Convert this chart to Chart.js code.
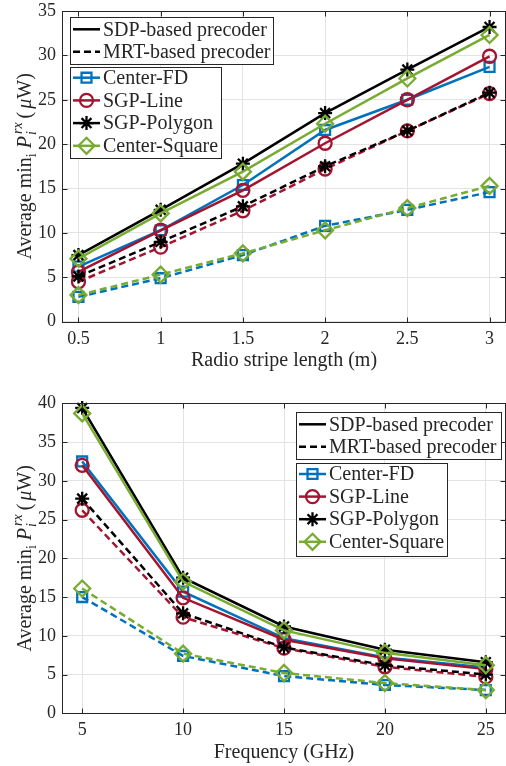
<!DOCTYPE html>
<html>
<head>
<meta charset="utf-8">
<script src="https://cdn.jsdelivr.net/npm/chart.js@4.4.0/dist/chart.umd.min.js"></script>
<style>
  html, body { margin: 0; padding: 0; background: #fff; }
  #wrap { position: relative; width: 506px; height: 766px; }
  .panel { position: absolute; left: 0; width: 506px; height: 383px; }
</style>
</head>
<body>
<div id="wrap">
  <div class="panel" style="top:0"><canvas id="lenChart" width="506" height="383"></canvas></div>
  <div class="panel" style="top:383px"><canvas id="freqChart" width="506" height="383"></canvas></div>
</div>
<script>
// legend texts
const precoderNames = ['SDP-based precoder', 'MRT-based precoder'];
const schemeNames = ['Center-FD', 'SGP-Line', 'SGP-Polygon', 'Center-Square'];

// top panel: radio stripe length (m)
const stripeLengths = [0.5, 1, 1.5, 2, 2.5, 3];
const lenSdpCenterFD     = [6.2, 10.3, 15.4, 21.6, 25.0, 28.7];
const lenSdpSgpLine      = [5.6, 10.3, 14.8, 20.1, 25.0, 29.9];
const lenSdpSgpPolygon   = [7.5, 12.6, 17.8, 23.5, 28.4, 33.2];
const lenSdpCenterSquare = [7.1, 12.2, 16.9, 22.3, 27.4, 32.3];
const lenMrtCenterFD     = [2.8, 4.9, 7.5, 10.8, 12.6, 14.6];
const lenMrtSgpLine      = [4.5, 8.4, 12.5, 17.2, 21.5, 25.7];
const lenMrtSgpPolygon   = [5.1, 9.0, 13.0, 17.5, 21.5, 25.8];
const lenMrtCenterSquare = [3.0, 5.3, 7.7, 10.3, 12.8, 15.3];

// bottom panel: frequency (GHz)
const frequencies = [5, 10, 15, 20, 25];
const frqSdpCenterFD     = [32.5, 15.7, 9.7, 7.2, 5.9];
const frqSdpSgpLine      = [32.0, 14.9, 9.5, 7.1, 5.7];
const frqSdpSgpPolygon   = [39.4, 17.5, 11.2, 8.2, 6.6];
const frqSdpCenterSquare = [38.7, 17.0, 10.7, 7.8, 6.2];
const frqMrtCenterFD     = [15.0, 7.4, 4.8, 3.65, 3.0];
const frqMrtSgpLine      = [26.2, 12.4, 8.4, 6.0, 4.7];
const frqMrtSgpPolygon   = [27.7, 12.9, 8.5, 6.2, 5.0];
const frqMrtCenterSquare = [16.1, 7.7, 5.2, 3.9, 3.0];

const yTicksLen = [0, 5, 10, 15, 20, 25, 30, 35];
const yTicksFreq = [0, 5, 10, 15, 20, 25, 30, 35, 40];

// styles
const schemeColors = ['#0072BD', '#A2142F', '#000000', '#77AC30'];
const schemePoints = ['rect', 'circle', 'star', 'rectRot'];
const schemeRadius = [7, 6.5, 7, 8];
const INK = '#262626';
const FONT = '"Liberation Serif", "Times New Roman", serif';

function buildSets(xs, sdp, mrt) {
  const sets = [];
  let n = 0;
  for (let i = 0; i < schemeNames.length; i++) {
    [[sdp[i], []], [mrt[i], [7, 4]]].forEach(([vals, dash]) => {
      sets.push({
        label: schemeNames[i],
        data: xs.map((x, k) => ({ x: x, y: vals[k] })),
        borderColor: schemeColors[i],
        backgroundColor: 'rgba(0,0,0,0)',
        pointBackgroundColor: 'rgba(0,0,0,0)',
        pointBorderColor: schemeColors[i],
        pointStyle: schemePoints[i],
        pointRadius: schemeRadius[i],
        pointBorderWidth: 2.3,
        borderWidth: 2.5,
        borderDash: dash,
        tension: 0,
        clip: false,
        order: 20 - n++
      });
    });
  }
  return sets;
}

function drawYTitle(ctx, baseX, cy) {
  const big = '20px ' + FONT, bigIt = 'italic 20px ' + FONT;
  const sm = '14px ' + FONT, smIt = 'italic 14px ' + FONT;
  const segs = [
    { t: 'Average min', f: big, dy: 0 },
    { t: 'i', f: sm, dy: 5 },
    { t: ' ', f: big, dy: 0 },
    { t: 'P', f: bigIt, dy: 0 },
    { t: 'i', f: smIt, dy: 5, sup: 'rx', supDy: -9, kern: 1 },
    { t: ' (', f: big, dy: 0, kern: 3 },
    { t: 'μ', f: bigIt, dy: 0 },
    { t: 'W)', f: big, dy: 0 }
  ];
  ctx.save();
  let total = 0;
  segs.forEach(s => {
    ctx.font = s.f;
    let w = ctx.measureText(s.t).width;
    if (s.sup) w = Math.max(w, ctx.measureText(s.sup).width);
    s.w = w + (s.kern || 0);
    total += s.w;
  });
  ctx.translate(baseX, cy);
  ctx.rotate(-Math.PI / 2);
  ctx.fillStyle = INK;
  ctx.textBaseline = 'alphabetic';
  ctx.textAlign = 'left';
  let x = -total / 2;
  segs.forEach(s => {
    ctx.font = s.f;
    ctx.fillText(s.t, x + (s.sup ? s.kern : 0), s.dy);
    if (s.sup) ctx.fillText(s.sup, x + s.kern + 1, s.supDy);
    x += s.w;
  });
  ctx.restore();
}

function drawLegend(ctx, lg) {
  ctx.save();
  ctx.font = '20px ' + FONT;
  ctx.textBaseline = 'middle';
  ctx.textAlign = 'left';
  // precoder box
  ctx.fillStyle = '#fff';
  ctx.fillRect(lg.x, lg.y1, lg.w1, lg.h1);
  ctx.strokeStyle = INK; ctx.lineWidth = 1; ctx.setLineDash([]);
  ctx.strokeRect(lg.x + 0.5, lg.y1 + 0.5, lg.w1, lg.h1);
  precoderNames.forEach((name, k) => {
    const ry = lg.y1 + lg.r1 + k * lg.step1;
    ctx.strokeStyle = '#000'; ctx.lineWidth = 2.5;
    ctx.setLineDash(k === 0 ? [] : [7, 4]);
    ctx.beginPath(); ctx.moveTo(lg.x + 3, ry); ctx.lineTo(lg.x + 30, ry); ctx.stroke();
    ctx.setLineDash([]);
    ctx.fillStyle = INK;
    ctx.fillText(name, lg.x + 33, ry + 1);
  });
  // scheme box
  ctx.fillStyle = '#fff';
  ctx.fillRect(lg.x, lg.y2, lg.w2, lg.h2);
  ctx.strokeStyle = INK; ctx.lineWidth = 1;
  ctx.strokeRect(lg.x + 0.5, lg.y2 + 0.5, lg.w2, lg.h2);
  schemeNames.forEach((name, k) => {
    const ry = lg.y2 + lg.r2 + k * lg.step2;
    ctx.strokeStyle = schemeColors[k]; ctx.lineWidth = 2.5;
    ctx.beginPath(); ctx.moveTo(lg.x + 3, ry); ctx.lineTo(lg.x + 30, ry); ctx.stroke();
    ctx.fillStyle = 'rgba(0,0,0,0)';
    ctx.lineWidth = 2.3;
    Chart.helpers.drawPoint(ctx, {
      pointStyle: schemePoints[k], radius: schemeRadius[k], rotation: 0, borderWidth: 2.3
    }, lg.x + 16.5, ry);
    ctx.fillStyle = INK;
    ctx.fillText(name, lg.x + 33, ry + 1);
  });
  ctx.restore();
}

const framePlugin = {
  id: 'frame',
  afterDraw(chart, args, opts) {
    const { ctx, chartArea: a, scales } = chart;
    ctx.save();
    ctx.strokeStyle = INK;
    ctx.lineWidth = 1;
    const L = Math.round(a.left) + 0.5, R = Math.round(a.right) - 0.5;
    const T = Math.round(a.top) + 0.5, B = Math.round(a.bottom) + 0.5;
    ctx.beginPath();
    scales.x.ticks.forEach(t => {
      const px = Math.round(scales.x.getPixelForValue(t.value)) + 0.5;
      ctx.moveTo(px, B); ctx.lineTo(px, B - 5);
      ctx.moveTo(px, T); ctx.lineTo(px, T + 5);
    });
    scales.y.ticks.forEach(t => {
      const py = Math.round(scales.y.getPixelForValue(t.value)) + 0.5;
      ctx.moveTo(L, py); ctx.lineTo(L + 5, py);
      ctx.moveTo(R, py); ctx.lineTo(R - 5, py);
    });
    ctx.stroke();
    ctx.strokeRect(L, T, R - L, B - T);
    ctx.restore();
    drawLegend(ctx, opts.legend);
    drawYTitle(ctx, 31, (a.top + a.bottom) / 2);
  }
};

function makeChart(id, xs, sdp, mrt, cfg) {
  return new Chart(document.getElementById(id), {
    type: 'line',
    data: { datasets: buildSets(xs, sdp, mrt) },
    plugins: [framePlugin],
    options: {
      responsive: false,
      animation: false,
      events: [],
      layout: { autoPadding: false, padding: { top: cfg.padTop, right: 0, bottom: 0, left: 0 } },
      plugins: {
        legend: { display: false },
        tooltip: { enabled: false },
        frame: { legend: cfg.legend }
      },
      scales: {
        x: {
          type: 'linear',
          min: cfg.xMin, max: cfg.xMax,
          afterBuildTicks: s => { s.ticks = xs.map(v => ({ value: v })); },
          afterFit: s => {
            s.height = cfg.xAxisH;
            s.paddingLeft = 0; s.paddingRight = 0;
          },
          grid: { color: '#e3e3e3', lineWidth: 1, drawTicks: false },
          border: { display: false },
          ticks: {
            padding: cfg.tickPad, color: INK, font: { family: FONT, size: 18 },
            maxRotation: 0, autoSkip: false, callback: v => String(v)
          },
          title: { display: true, text: cfg.xTitle, color: INK, font: { family: FONT, size: 20 }, padding: { top: 0, bottom: cfg.titlePad } }
        },
        y: {
          min: 0, max: cfg.yTicks[cfg.yTicks.length - 1],
          afterBuildTicks: s => { s.ticks = cfg.yTicks.map(v => ({ value: v })); },
          afterFit: s => {
            s.width = 62;
            s.paddingTop = 0; s.paddingBottom = 0;
          },
          grid: { color: '#e3e3e3', lineWidth: 1, drawTicks: false },
          border: { display: false },
          ticks: { padding: 6, color: INK, font: { family: FONT, size: 18 }, callback: v => String(v) }
        }
      }
    }
  });
}

makeChart('lenChart', stripeLengths,
  [lenSdpCenterFD, lenSdpSgpLine, lenSdpSgpPolygon, lenSdpCenterSquare],
  [lenMrtCenterFD, lenMrtSgpLine, lenMrtSgpPolygon, lenMrtCenterSquare],
  {
    padTop: 11, xMin: 0.4, xMax: 3.1, xAxisH: 61.3, tickPad: 6.5, titlePad: 10,
    xTitle: 'Radio stripe length (m)', yTicks: yTicksLen,
    legend: { x: 70, y1: 17, w1: 203, h1: 47, r1: 12.3, step1: 22.4,
              y2: 67, w2: 151, h2: 91, r2: 10.7, step2: 22.7 }
  });

makeChart('freqChart', frequencies,
  [frqSdpCenterFD, frqSdpSgpLine, frqSdpSgpPolygon, frqSdpCenterSquare],
  [frqMrtCenterFD, frqMrtSgpLine, frqMrtSgpPolygon, frqMrtCenterSquare],
  {
    padTop: 20.3, xMin: 4, xMax: 26, xAxisH: 52.7, tickPad: 6, titlePad: 1.3,
    xTitle: 'Frequency (GHz)', yTicks: yTicksFreq,
    legend: { x: 296, y1: 29, w1: 205, h1: 47, r1: 12.3, step1: 22.4,
              y2: 80, w2: 151, h2: 93, r2: 11, step2: 22.6 }
  });
</script>
</body>
</html>
